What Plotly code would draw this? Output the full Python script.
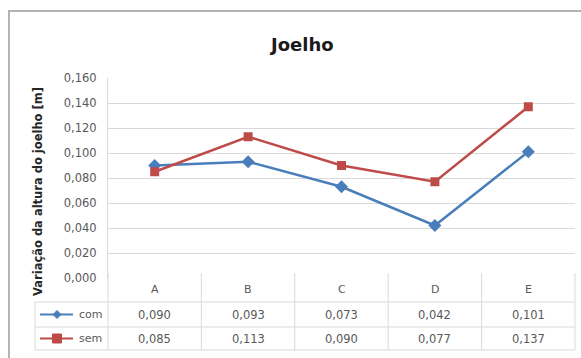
import plotly.graph_objects as go

# Knee height variation per condition
categories = ["A", "B", "C", "D", "E"]
com_values = [0.090, 0.093, 0.073, 0.042, 0.101]
sem_values = [0.085, 0.113, 0.090, 0.077, 0.137]
series_names = ["com", "sem"]
tick_values = [0.0, 0.02, 0.04, 0.06, 0.08, 0.10, 0.12, 0.14, 0.16]

BLUE = "#4A7EBB"
RED = "#BE4B48"
GRID = "#D9D9D9"
TXT = "#595959"
FONT = "DejaVu Sans"

W, H = 581, 358
ML, MR, MT, MB = 108, 6, 78, 80
PW = W - ML - MR
PH = H - MT - MB


def px(xp):
    return (xp - ML) / PW


def py(yp):
    return (H - MB - yp) / PH


def label(x, y, text, size, color=TXT, xanchor="center", angle=0):
    return dict(x=x, y=y, xref="paper", yref="paper", text=text, showarrow=False,
                xanchor=xanchor, yanchor="middle", textangle=angle,
                font=dict(size=size, color=color, family=FONT))


fig = go.Figure()
fig.add_trace(go.Scatter(
    x=list(range(len(categories))), y=com_values, name=series_names[0],
    mode="lines+markers", line=dict(color=BLUE, width=2.5),
    marker=dict(symbol="diamond", size=10, color=BLUE), cliponaxis=False))
fig.add_trace(go.Scatter(
    x=list(range(len(categories))), y=sem_values, name=series_names[1],
    mode="lines+markers", line=dict(color=RED, width=2.5),
    marker=dict(symbol="square", size=9, color=RED), cliponaxis=False))

shapes = []
annotations = []

# data table under the plot
n = len(categories)
row_lines = [302, 327, 350]
left_label = 35
for yl in row_lines:
    shapes.append(dict(type="line", xref="paper", yref="paper",
                       x0=px(left_label), x1=1, y0=py(yl), y1=py(yl),
                       line=dict(color=GRID, width=1)))
for i in range(n + 1):
    xp = i / n
    shapes.append(dict(type="line", xref="paper", yref="paper",
                       x0=xp, x1=xp, y0=py(350), y1=py(273),
                       line=dict(color=GRID, width=1)))
shapes.append(dict(type="line", xref="paper", yref="paper",
                   x0=px(left_label), x1=px(left_label), y0=py(350), y1=py(302),
                   line=dict(color=GRID, width=1)))

row_centers = [289.5, 314.5, 338.5]
for i, c in enumerate(categories):
    xc = (i + 0.5) / n
    annotations.append(label(xc, py(row_centers[0]), c, 11))
    for r, vals in enumerate([com_values, sem_values]):
        annotations.append(label(xc, py(row_centers[r + 1]),
                                 f"{vals[i]:.3f}".replace(".", ","), 11.5))

# legend keys inside the table
for r, (name, col) in enumerate(zip(series_names, [BLUE, RED])):
    cy = row_centers[r + 1]
    yc = py(cy)
    shapes.append(dict(type="line", xref="paper", yref="paper",
                       x0=px(40), x1=px(73), y0=yc, y1=yc, line=dict(color=col, width=2)))
    cx = 57
    if r == 0:
        d = 4
        path = (f"M {px(cx)} {py(cy - d)} L {px(cx + d)} {py(cy)} "
                f"L {px(cx)} {py(cy + d)} L {px(cx - d)} {py(cy)} Z")
        shapes.append(dict(type="path", xref="paper", yref="paper", path=path,
                           fillcolor=col, line=dict(color=col, width=1)))
    else:
        d = 4.5
        shapes.append(dict(type="rect", xref="paper", yref="paper",
                           x0=px(cx - d), x1=px(cx + d), y0=py(cy + d), y1=py(cy - d),
                           fillcolor=col, line=dict(color=col, width=1)))
    annotations.append(label(px(77), yc, name, 11, xanchor="left"))

# chart border
shapes.append(dict(type="rect", xref="paper", yref="paper",
                   x0=px(9), x1=px(600), y0=py(362), y1=py(11),
                   line=dict(color="#B4B4B4", width=2), layer="below"))

# title and axis title
annotations.append(label(px(301), py(44), "<b>Joelho</b>", 18, color="#1A1A1A"))
annotations.append(label(px(38), py(192), "<b>Variação da altura do joelho [m]</b>", 11.5,
                         color="#262626", angle=-90))

fig.update_layout(
    width=W, height=H,
    margin=dict(l=ML, r=MR, t=MT, b=MB),
    paper_bgcolor="white", plot_bgcolor="white",
    separators=",.",
    showlegend=False,
    shapes=shapes, annotations=annotations,
    xaxis=dict(range=[-0.5, n - 0.5], showticklabels=False, showgrid=False,
               zeroline=False, showline=False, fixedrange=True),
    yaxis=dict(range=[0, 0.16], tickvals=tick_values, tickformat=".3f",
               showgrid=True, gridcolor=GRID, gridwidth=1, zeroline=False,
               showline=True, linecolor=GRID, ticks="", ticklen=0,
               ticklabelstandoff=8,
               tickfont=dict(size=11.5, color=TXT, family=FONT)),
)

fig.write_html("out.html")
